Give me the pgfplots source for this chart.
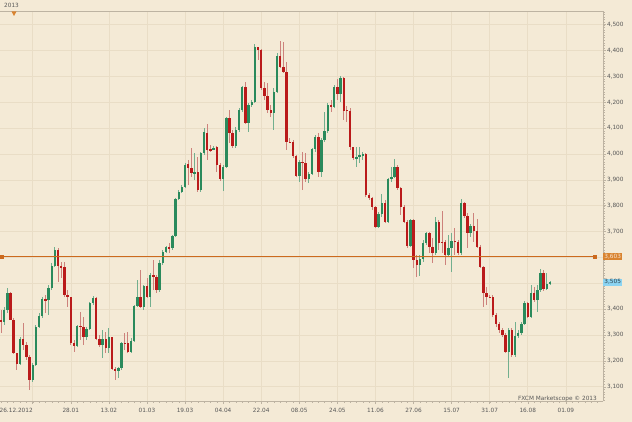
\documentclass[border=0pt]{standalone}
\usepackage{pgfplots}
\pgfplotsset{compat=1.18}
\usepackage{pgfplotstable}
\usepackage{fontspec}
\setmainfont{DejaVu Sans}
\definecolor{bg}{HTML}{F4EAD6}
\definecolor{gridc}{HTML}{E9DDC6}
\definecolor{upc}{HTML}{2A8A5C}
\definecolor{dnc}{HTML}{BA1A1A}
\definecolor{upw}{HTML}{72AF8E}
\definecolor{dnw}{HTML}{CD827C}
\definecolor{lvl}{HTML}{CC6A1E}
\definecolor{lvlbox}{HTML}{D9832F}
\definecolor{bluebox}{HTML}{8CD4F2}
\definecolor{axc}{HTML}{BDB3A2}
\definecolor{txt}{HTML}{585858}

\pgfplotstableread{
i o h l c
0 3358 3397 3306 3351
1 3351 3409 3339 3397
2 3397 3480 3384 3461
3 3461 3467 3358 3360
4 3360 3365 3225 3229
5 3229 3232 3164 3188
6 3188 3293 3184 3283
7 3283 3345 3242 3261
8 3261 3274 3203 3216
9 3216 3223 3087 3128
10 3128 3190 3119 3184
11 3184 3339 3180 3332
12 3332 3384 3326 3375
13 3375 3448 3364 3438
14 3438 3455 3384 3436
15 3436 3493 3377 3480
16 3480 3577 3474 3567
17 3567 3639 3564 3629
18 3629 3635 3506 3567
19 3567 3583 3519 3562
20 3562 3583 3448 3455
21 3455 3474 3409 3446
22 3446 3448 3261 3270
23 3270 3281 3235 3257
24 3257 3339 3255 3335
25 3335 3390 3281 3332
26 3332 3371 3261 3293
27 3293 3332 3281 3324
28 3324 3429 3319 3422
29 3422 3451 3416 3442
30 3442 3448 3281 3283
31 3283 3300 3255 3261
32 3261 3319 3210 3283
33 3283 3313 3229 3248
34 3248 3326 3229 3291
35 3291 3293 3164 3167
36 3167 3177 3126 3162
37 3162 3177 3132 3171
38 3171 3274 3164 3270
39 3270 3306 3242 3268
40 3268 3313 3229 3235
41 3235 3287 3229 3278
42 3278 3416 3274 3412
43 3412 3513 3409 3446
44 3446 3551 3403 3409
45 3409 3493 3397 3489
46 3489 3519 3442 3448
47 3448 3538 3409 3532
48 3532 3590 3474 3523
49 3523 3532 3461 3474
50 3474 3590 3467 3580
51 3580 3629 3571 3622
52 3622 3644 3616 3639
53 3639 3654 3616 3635
54 3635 3687 3629 3683
55 3683 3828 3680 3825
56 3825 3861 3822 3854
57 3854 3880 3848 3874
58 3874 3964 3867 3957
59 3961 3977 3880 3944
60 3944 4022 3912 3925
61 3925 4002 3899 3932
62 3932 3990 3854 3861
63 3861 4009 3854 4002
64 4002 4099 3996 4086
65 4082 4116 3977 4015
66 4018 4035 4009 4013
67 4018 4031 4015 4024
68 4026 4031 3931 3957
69 3957 3964 3895 3902
70 3902 3957 3858 3951
71 3951 4144 3944 4138
72 4138 4170 4041 4080
73 4080 4093 4022 4031
74 4031 4106 4022 4093
75 4093 4176 4086 4170
76 4170 4263 4164 4258
77 4258 4279 4116 4121
78 4121 4196 4086 4189
79 4189 4209 4183 4202
80 4202 4425 4196 4412
81 4412 4415 4363 4402
82 4402 4405 4247 4254
83 4254 4279 4209 4224
84 4224 4273 4157 4170
85 4170 4189 4142 4160
86 4160 4254 4093 4241
87 4241 4389 4234 4379
88 4379 4438 4331 4338
89 4338 4434 4312 4318
90 4318 4357 4015 4048
91 4048 4060 4041 4044
92 4048 4054 3983 3992
93 3992 3996 3912 3915
94 3915 3977 3893 3970
95 3970 4009 3861 3966
96 3966 4002 3893 3902
97 3902 3931 3886 3923
98 3923 4022 3919 4018
99 4018 4073 4009 4067
100 4067 4080 3912 3931
101 3931 4060 3912 4054
102 4054 4164 4048 4090
103 4090 4196 4080 4189
104 4189 4209 4164 4180
105 4180 4267 4176 4258
106 4258 4289 4209 4232
107 4232 4301 4202 4292
108 4292 4299 4131 4167
109 4170 4185 4125 4167
110 4167 4176 4015 4026
111 4026 4028 3977 3983
112 3983 4028 3951 3987
113 3987 4028 3964 3996
114 3992 4009 3977 3999
115 3999 4002 3835 3841
116 3841 3850 3822 3828
117 3828 3835 3783 3794
118 3794 3799 3712 3719
119 3719 3777 3712 3768
120 3768 3845 3758 3812
121 3812 3822 3732 3738
122 3738 3906 3732 3902
123 3902 3951 3893 3912
124 3912 3979 3906 3951
125 3951 3957 3861 3867
126 3867 3874 3764 3796
127 3796 3803 3732 3738
128 3738 3745 3635 3644
129 3644 3747 3642 3745
130 3745 3747 3558 3590
131 3590 3609 3525 3571
132 3571 3609 3528 3593
133 3593 3667 3583 3657
134 3657 3700 3648 3693
135 3693 3700 3616 3641
136 3641 3674 3577 3616
137 3616 3758 3609 3738
138 3738 3745 3629 3657
139 3661 3781 3616 3657
140 3661 3667 3571 3609
141 3609 3687 3603 3635
142 3635 3693 3545 3665
143 3665 3712 3609 3661
144 3661 3667 3609 3616
145 3616 3825 3609 3812
146 3812 3816 3751 3760
147 3760 3770 3635 3693
148 3693 3729 3680 3721
149 3721 3773 3661 3703
150 3703 3747 3635 3641
151 3641 3648 3558 3564
152 3564 3567 3409 3464
153 3464 3487 3416 3446
154 3448 3455 3442 3446
155 3448 3455 3371 3377
156 3377 3384 3332 3342
157 3342 3351 3306 3319
158 3319 3326 3293 3300
159 3300 3306 3229 3235
160 3235 3326 3132 3319
161 3319 3326 3216 3223
162 3223 3351 3216 3296
163 3296 3319 3287 3306
164 3306 3351 3300 3342
165 3342 3433 3339 3425
166 3425 3429 3364 3371
167 3371 3493 3364 3461
168 3461 3487 3429 3436
169 3436 3493 3390 3474
170 3474 3554 3467 3538
171 3538 3551 3471 3477
172 3477 3538 3474 3497
173 3497 3509 3493 3504
}\candles

\begin{document}
\begin{tikzpicture}
\fill[bg] (0bp,0bp) rectangle (632bp,422bp);
\path[use as bounding box] (0bp,0bp) rectangle (632bp,422bp);
\begin{axis}[
  at={(0bp,21bp)}, anchor=south west,
  scale only axis, width=603bp, height=390bp,
  xmin=-0.315, xmax=189.7, ymin=3045, ymax=4553,
  axis x line*=bottom, axis y line*=right,
  axis line style={axc, line width=0.6bp, -},
  clip=false,
  xtick={10,22,...,178},
  xticklabels={\llap{26.12.2012},28.01,13.02,01.03,19.03,04.04,22.04,08.05,24.05,11.06,27.06,15.07,31.07,16.08,01.09},
  minor xtick={0,2,...,188},
  ytick={3100,3200,3300,3400,3700,3800,3900,4000,4100,4200,4300,4400,4500},
  extra y ticks={3500,3600},
  extra y tick labels={},
  extra y tick style={grid=major},
  minor ytick={3050,3060,...,4550},
  grid=major,
  major grid style={gridc, line width=0.6bp},
  tick align=outside,
  major tick length=3bp, minor tick length=1.8bp,
  every tick/.style={axc, line width=0.5bp},
  every minor tick/.style={axc, line width=0.4bp},
  tick label style={font=\fontsize{5.8}{7}\selectfont, text=txt},
  /pgf/number format/1000 sep={,},
  /pgf/number format/assume math mode=true,
  yticklabel style={xshift=-2.5bp},
  xticklabel style={yshift=-1bp},
]
% wicks, up candles
\addplot[draw=none, mark=none, forget plot,
  error bars/.cd, y dir=both, y explicit, error mark=none,
  error bar style={draw=upw, line width=0.9bp}]
  table[x=i,
        y expr={\thisrow{c}>=\thisrow{o} ? 0.5*(\thisrow{h}+\thisrow{l}) : nan},
        y error expr={0.5*(\thisrow{h}-\thisrow{l})}] {\candles};
% wicks, down candles
\addplot[draw=none, mark=none, forget plot,
  error bars/.cd, y dir=both, y explicit, error mark=none,
  error bar style={draw=dnw, line width=0.9bp}]
  table[x=i,
        y expr={\thisrow{c}<\thisrow{o} ? 0.5*(\thisrow{h}+\thisrow{l}) : nan},
        y error expr={0.5*(\thisrow{h}-\thisrow{l})}] {\candles};
% bodies, up candles
\addplot[draw=none, mark=none, forget plot,
  error bars/.cd, y dir=both, y explicit, error mark=none,
  error bar style={draw=upc, line width=2.4bp}]
  table[x=i,
        y expr={\thisrow{c}>=\thisrow{o} ? 0.5*(\thisrow{o}+\thisrow{c}) : nan},
        y error expr={max(0.5*abs(\thisrow{c}-\thisrow{o}),2)}] {\candles};
% bodies, down candles
\addplot[draw=none, mark=none, forget plot,
  error bars/.cd, y dir=both, y explicit, error mark=none,
  error bar style={draw=dnc, line width=2.4bp}]
  table[x=i,
        y expr={\thisrow{c}<\thisrow{o} ? 0.5*(\thisrow{o}+\thisrow{c}) : nan},
        y error expr={max(0.5*abs(\thisrow{c}-\thisrow{o}),2)}] {\candles};
% level line
\addplot[lvl, line width=0.9bp, mark=square*, mark size=1.5bp,
  mark options={fill=lvl, draw=lvl}] coordinates {(0.3,3603) (187.2,3603)};
\node[anchor=west, fill=lvlbox, text=white!80!lvlbox, inner xsep=1.2bp, inner ysep=1bp,
  font=\fontsize{5.8}{7}\selectfont] at (axis cs:189.7,3603) {3,603};
\node[anchor=west, fill=bluebox, text=black!70!bluebox, inner xsep=1.2bp, inner ysep=1bp,
  font=\fontsize{5.8}{7}\selectfont] at (axis cs:189.7,3505) {3,505};
\end{axis}
\draw[axc, line width=0.6bp] (0bp,411bp) -- (603bp,411bp);
\node[anchor=west, font=\fontsize{5.8}{7}\selectfont, text=txt, inner sep=0pt] at (4bp,417bp) {2013};
\fill[lvlbox] (11.5bp,410.5bp) -- (16.5bp,410.5bp) -- (14bp,406bp) -- cycle;
\node[anchor=east, font=\fontsize{5.8}{7}\selectfont, text=txt, inner sep=0pt] at (597bp,23bp) {FXCM Marketscope © 2013};
\end{tikzpicture}
\end{document}
